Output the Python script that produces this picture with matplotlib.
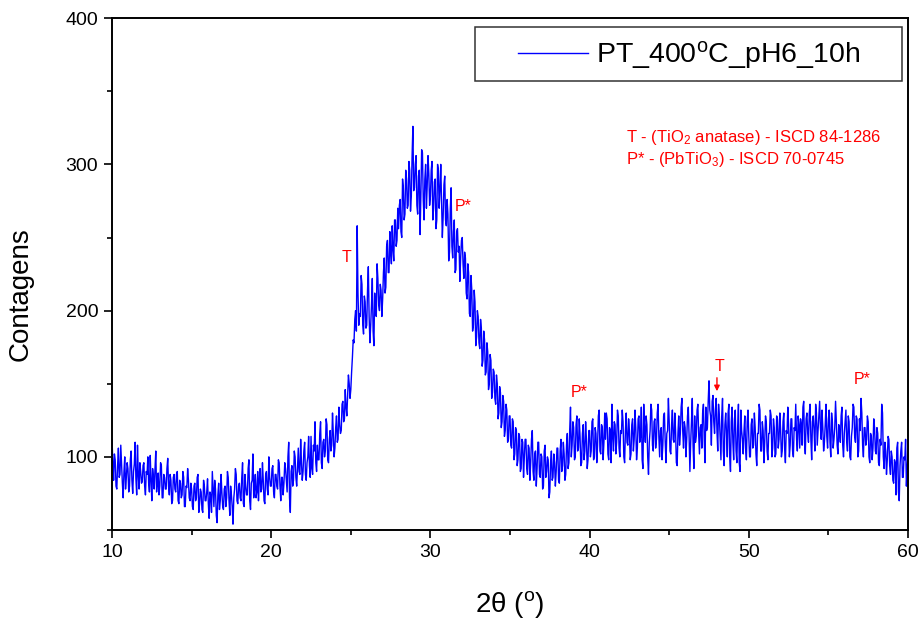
import numpy as np
import matplotlib
matplotlib.use("Agg")
import matplotlib.pyplot as plt
from matplotlib.patches import Rectangle
from matplotlib.ticker import MultipleLocator

plt.rcParams["font.family"] = ["Liberation Sans", "DejaVu Sans"]
plt.rcParams["mathtext.fontset"] = "custom"
plt.rcParams["mathtext.rm"] = "Liberation Sans"
plt.rcParams["mathtext.it"] = "Liberation Sans:italic"

# counts, 0.05 degree step, one row per degree (10..59) + 60
counts = [
    112, 96, 84, 102, 98, 80, 78, 94, 106, 86, 88, 108, 95, 82, 72, 90, 100, 78, 86, 96,
    92, 76, 80, 98, 104, 84, 75, 90, 95, 110, 85, 74, 108, 88, 78, 96, 90, 82, 83, 94,
    96, 80, 74, 90, 88, 100, 82, 76, 101, 84, 70, 92, 86, 78, 92, 104, 76, 82, 89, 74,
    80, 96, 94, 72, 72, 88, 86, 78, 78, 92, 99, 80, 74, 88, 84, 68, 70, 86, 88, 78,
    76, 88, 90, 70, 68, 84, 82, 72, 74, 90, 86, 66, 66, 80, 79, 92, 84, 72, 70, 82,
    78, 66, 64, 80, 82, 70, 72, 86, 88, 62, 68, 78, 76, 64, 62, 84, 80, 70, 70, 76,
    85, 68, 58, 76, 74, 62, 90, 78, 66, 84, 78, 60, 55, 74, 82, 64, 70, 88, 76, 66,
    64, 78, 80, 66, 72, 90, 86, 70, 60, 80, 74, 66, 54, 72, 78, 92, 88, 70, 68, 80,
    82, 72, 70, 86, 96, 68, 66, 88, 80, 74, 74, 92, 98, 70, 64, 82, 84, 102, 72, 78,
    88, 72, 76, 90, 70, 84, 92, 76, 78, 96, 84, 70, 68, 88, 90, 78, 74, 100, 86, 80,
    80, 92, 94, 76, 72, 88, 88, 80, 78, 98, 96, 80, 70, 86, 86, 74, 82, 96, 92, 84,
    76, 100, 110, 72, 62, 90, 94, 80, 84, 104, 100, 86, 80, 92, 106, 90, 88, 112, 96, 84,
    90, 104, 110, 88, 84, 96, 100, 114, 94, 86, 114, 92, 88, 108, 104, 124, 96, 90, 108, 98,
    98, 116, 124, 96, 92, 110, 112, 100, 104, 126, 122, 98, 96, 112, 118, 104, 108, 130, 116, 100,
    106, 120, 128, 110, 112, 134, 122, 116, 118, 136, 138, 124, 126, 146, 134, 128, 142, 156, 150, 140,
    146, 158, 168, 180, 178, 194, 200, 186, 258, 212, 190, 198, 196, 224, 218, 190, 184, 210, 206, 188,
    190, 214, 230, 196, 178, 190, 204, 222, 186, 176, 212, 200, 196, 232, 222, 204, 200, 218, 214, 196,
    208, 226, 236, 212, 216, 244, 248, 226, 226, 254, 240, 232, 258, 242, 234, 262, 262, 244, 248, 270,
    256, 272, 276, 254, 250, 290, 284, 262, 266, 296, 290, 270, 272, 302, 296, 268, 278, 306, 326, 282,
    284, 300, 306, 272, 266, 292, 296, 252, 278, 310, 308, 276, 262, 290, 300, 270, 286, 306, 294, 272,
    278, 296, 302, 262, 270, 288, 290, 256, 262, 300, 296, 270, 282, 300, 274, 250, 264, 286, 292, 262,
    258, 276, 266, 234, 240, 270, 284, 244, 236, 254, 262, 226, 228, 254, 256, 240, 244, 220, 236, 248,
    250, 232, 222, 240, 236, 212, 208, 232, 226, 198, 196, 224, 214, 186, 190, 214, 206, 176, 182, 200,
    196, 178, 174, 194, 188, 162, 166, 186, 180, 156, 158, 178, 172, 146, 150, 170, 166, 140, 144, 160,
    158, 140, 136, 156, 150, 126, 130, 148, 144, 120, 124, 142, 138, 114, 118, 136, 132, 110, 112, 128,
    128, 108, 106, 126, 124, 98, 102, 120, 118, 94, 98, 116, 114, 90, 92, 112, 110, 86, 100, 112,
    112, 92, 88, 108, 106, 84, 96, 112, 118, 90, 84, 102, 104, 80, 92, 110, 110, 88, 86, 102,
    100, 78, 80, 104, 108, 86, 90, 100, 98, 72, 76, 96, 104, 84, 86, 102, 96, 80, 90, 106,
    106, 84, 82, 104, 112, 90, 94, 110, 102, 84, 88, 108, 116, 92, 96, 118, 134, 100, 108, 124,
    120, 98, 100, 122, 128, 104, 106, 126, 114, 94, 96, 116, 122, 98, 104, 124, 112, 92, 98, 118,
    118, 100, 104, 124, 126, 98, 100, 120, 116, 96, 108, 128, 132, 104, 102, 122, 120, 98, 110, 130,
    112, 130, 126, 102, 98, 120, 118, 96, 136, 114, 104, 124, 122, 102, 110, 132, 128, 106, 100, 118,
    116, 132, 124, 100, 96, 118, 130, 110, 108, 126, 118, 98, 102, 122, 126, 104, 112, 132, 120, 98,
    106, 126, 128, 110, 114, 134, 98, 92, 136, 118, 110, 128, 122, 100, 88, 110, 118, 136, 132, 108,
    104, 124, 126, 106, 112, 130, 136, 114, 100, 118, 120, 98, 108, 128, 130, 110, 96, 116, 118, 140,
    124, 104, 102, 122, 132, 112, 110, 130, 118, 96, 94, 116, 128, 108, 116, 134, 140, 118, 106, 124,
    120, 100, 112, 128, 134, 114, 90, 110, 124, 140, 108, 92, 128, 110, 114, 132, 136, 116, 102, 120,
    122, 106, 130, 136, 112, 96, 134, 118, 120, 138, 152, 132, 128, 108, 138, 142, 124, 116, 132, 140,
    118, 104, 136, 128, 112, 98, 128, 140, 104, 94, 122, 130, 116, 100, 130, 136, 100, 90, 124, 134,
    110, 98, 126, 132, 104, 96, 120, 136, 96, 90, 132, 118, 112, 102, 118, 128, 106, 98, 124, 132,
    114, 100, 100, 122, 126, 106, 108, 130, 120, 102, 94, 116, 116, 136, 132, 104, 104, 124, 118, 96,
    110, 128, 124, 104, 98, 116, 116, 132, 128, 100, 106, 126, 120, 100, 102, 128, 126, 106, 112, 130,
    118, 100, 104, 124, 130, 106, 96, 118, 116, 134, 122, 100, 108, 126, 126, 104, 100, 120, 118, 136,
    112, 104, 128, 122, 106, 126, 122, 108, 134, 138, 110, 102, 126, 130, 116, 110, 130, 136, 112, 98,
    124, 128, 118, 104, 136, 130, 108, 118, 128, 138, 120, 112, 132, 120, 104, 110, 122, 136, 114, 106,
    126, 132, 110, 100, 130, 124, 106, 112, 120, 138, 124, 108, 102, 122, 118, 110, 128, 134, 108, 100,
    116, 124, 132, 110, 104, 128, 124, 100, 98, 114, 120, 136, 134, 114, 110, 128, 126, 100, 104, 126,
    118, 140, 130, 108, 100, 120, 120, 108, 112, 128, 124, 100, 96, 116, 114, 98, 106, 126, 120, 104,
    102, 120, 116, 96, 94, 112, 108, 136, 130, 100, 92, 110, 104, 88, 98, 114, 112, 94, 88, 104,
    100, 84, 82, 98, 96, 74, 106, 110, 76, 70, 94, 104, 110, 86, 86, 100, 98, 112, 80, 92,
    102,
]
assert len(counts) == 1001, len(counts)

two_theta = np.round(np.arange(10.0, 60.001, 0.05), 2)

series_label = "PT_400$^\\mathregular{o}$C_pH6_10h"

# phase markers: (label, 2theta, counts)
peak_labels = ["T", "P*", "P*", "T", "P*"]
peak_x = [24.73, 31.5, 38.8, 48.13, 56.6]
peak_y = [236, 271, 144, 162, 153]
peak_ha = ["center", "left", "left", "center", "left"]

ref_lines = [
    "T - (TiO$_\\mathregular{2}$ anatase) - ISCD 84-1286",
    "P* - (PbTiO$_\\mathregular{3}$) - ISCD 70-0745",
]

fig = plt.figure(figsize=(9.22, 6.25), dpi=100)
ax = fig.add_axes([0.1215, 0.152, 0.8633, 0.819])

ax.plot(two_theta, counts, color="#0000ff", lw=1.0, label=series_label)

ax.set_xlim(10, 60)
ax.set_ylim(50, 400)
ax.xaxis.set_major_locator(MultipleLocator(10))
ax.xaxis.set_minor_locator(MultipleLocator(5))
ax.yaxis.set_major_locator(MultipleLocator(100))
ax.yaxis.set_minor_locator(MultipleLocator(50))
ax.tick_params(which="major", direction="out", length=6, width=1.2,
               labelsize=14, pad=4)
ax.tick_params(which="minor", direction="out", length=3.5, width=1.2)
for sp in ax.spines.values():
    sp.set_linewidth(1.4)

ax.set_xlabel("2θ ($^\\mathregular{o}$)", fontsize=20)
ax.set_ylabel("Contagens", fontsize=20)
ax.xaxis.set_label_coords(0.5, -0.115)
ax.yaxis.set_label_coords(-0.099, 0.461)

# legend: frameless, box drawn separately so padding matches the original
leg = ax.legend(loc="center left", bbox_to_anchor=(0.51, 0.928),
                frameon=False, fontsize=20.5, borderpad=0, borderaxespad=0,
                handlelength=2.45, handletextpad=0.3)
ax.add_patch(Rectangle((0.456, 0.877), 0.5365, 0.105, transform=ax.transAxes,
                       fill=False, edgecolor="#333333", lw=1.1, zorder=5))

for lab, x, y, ha in zip(peak_labels, peak_x, peak_y, peak_ha):
    ax.text(x, y, lab, color="red", fontsize=11.5, ha=ha, va="center")
ax.annotate("", xy=(48.0, 143), xytext=(48.0, 156),
            arrowprops=dict(arrowstyle="-|>", color="red", lw=1.0,
                            mutation_scale=8))

ax.text(42.3, 315, ref_lines[0], color="red", fontsize=12, va="baseline")
ax.text(42.3, 300, ref_lines[1], color="red", fontsize=12, va="baseline")

fig.savefig("out.png", dpi=100)
